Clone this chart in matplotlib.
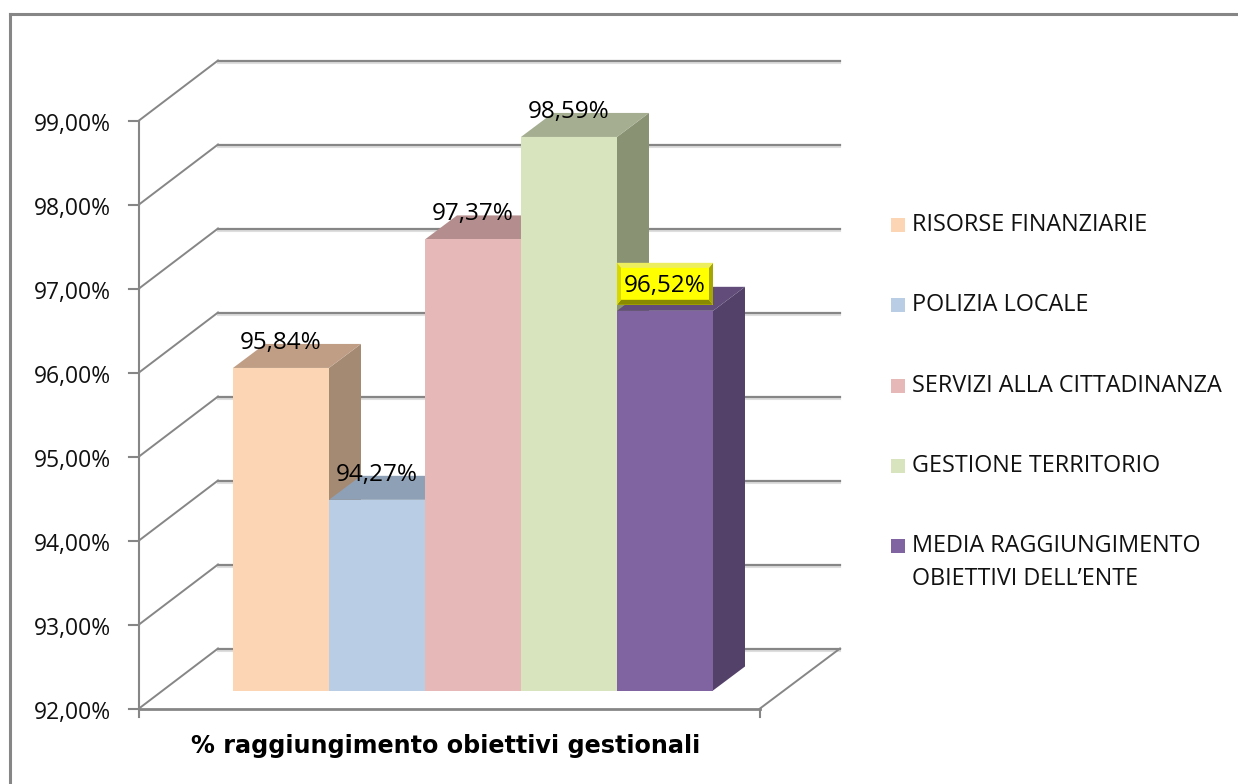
import matplotlib
matplotlib.use('Agg')
import matplotlib.pyplot as plt
from matplotlib.lines import Line2D
from matplotlib.patches import Polygon, Rectangle

# dati
categorie = ['RISORSE FINANZIARIE', 'POLIZIA LOCALE', 'SERVIZI ALLA CITTADINANZA',
             'GESTIONE TERRITORIO', 'MEDIA RAGGIUNGIMENTO\nOBIETTIVI DELL\u2019ENTE']
valori = [95.84, 94.27, 97.37, 98.59, 96.52]
etichette = ['95,84%', '94,27%', '97,37%', '98,59%', '96,52%']
tick_valori = [92, 93, 94, 95, 96, 97, 98, 99]
tick_etichette = ['92,00%', '93,00%', '94,00%', '95,00%', '96,00%', '97,00%', '98,00%', '99,00%']
titolo = '% raggiungimento obiettivi gestionali'

col_fronte = ['#FCD5B5', '#B9CDE5', '#E6B9B8', '#D7E4BD', '#8064A2']
col_sopra = ['#BF9E85', '#8EA0B5', '#B48E8E', '#A5AE90', '#614C7A']
col_lato = ['#A58A73', '#7E8EA1', '#A07E7E', '#8A9274', '#54416A']
grigio = '#868686'

W, H = 1238, 784
BAR_W = 96.0   # px per categoria
UNIT = 84.0    # px per punto percentuale
X0, Y0 = 233.0, 690.5  # angolo del primo bar, in pixel


def dx(p):
    return p / BAR_W


def dy(p):
    return p / UNIT


fig = plt.figure(figsize=(W / 100, H / 100), dpi=100)
ax = fig.add_axes([0, 0, 1, 1])
ax.set_xlim(-X0 / BAR_W, (W - X0) / BAR_W)
ax.set_ylim(92 - (H - Y0) / UNIT, 92 + Y0 / UNIT)
ax.axis('off')

# cornice del grafico
fig.add_artist(Line2D([10 / W, 10 / W], [0, 1 - 14 / H], color=grigio, lw=2.2))
fig.add_artist(Line2D([10 / W, 1], [1 - 14 / H, 1 - 14 / H], color=grigio, lw=2.2))

# piano frontale e piano di fondo
fx0, fx1 = dx(139 - X0), dx(760 - X0)
bx0, bx1 = dx(218 - X0), dx(840 - X0)
f_off, b_off = dy(-18), dy(42)

for v, lab in zip(tick_valori, tick_etichette):
    ax.plot([bx0, bx1], [v + b_off - dy(2)] * 2, color='#DEDEDE', lw=1.5, zorder=1)
    ax.plot([bx0, bx1], [v + b_off] * 2, color=grigio, lw=1.6, zorder=1.1)
    ax.plot([fx0, bx0], [v + f_off, v + b_off], color=grigio, lw=1.4, zorder=1.1)
    ax.plot([dx(129 - X0), fx0], [v + f_off] * 2, color=grigio, lw=1.5, zorder=1.1)
    ax.text(dx(111 - X0), v + f_off - dy(4), lab, ha='right', va='center',
            fontsize=16.5, family='Open Sans', color='#111111')

ax.plot([fx0, fx0], [tick_valori[0] + f_off - dy(8), tick_valori[-1] + f_off],
        color=grigio, lw=1.5, zorder=1.2)
ax.plot([fx0, fx1], [92 + f_off] * 2, color=grigio, lw=2, zorder=1.2)
ax.plot([fx1, fx1], [92 + f_off - dy(8), 92 + f_off], color=grigio, lw=1.5, zorder=1.2)
ax.plot([fx1, bx1], [92 + f_off, 92 + b_off], color=grigio, lw=1.4, zorder=1.2)

# barre pseudo 3D
prof_x, prof_y = dx(32), dy(24)
for i, v in enumerate(valori):
    z = 2 + i * 0.1
    ax.add_patch(Polygon([(i + 1, 92), (i + 1 + prof_x, 92 + prof_y),
                          (i + 1 + prof_x, v + prof_y), (i + 1, v)],
                         fc=col_lato[i], ec='none', zorder=z))
    ax.add_patch(Polygon([(i, v), (i + prof_x, v + prof_y),
                          (i + 1 + prof_x, v + prof_y), (i + 1, v)],
                         fc=col_sopra[i], ec='none', zorder=z))
    ax.bar(i + 0.5, v - 92, width=1, bottom=92, color=col_fronte[i], zorder=z + 0.01)

# riquadro giallo smussato sull'ultimo valore
bx, by = len(valori) - 1, valori[-1] + dy(6)
bw, bh = 1, dy(42)
sm_x, sm_y = dx(4), dy(5)
ax.add_patch(Rectangle((bx, by), bw, bh, fc='#FFFF00', ec='none', zorder=3))
ax.add_patch(Polygon([(bx, by), (bx + bw, by), (bx + bw - sm_x, by + sm_y), (bx + sm_x, by + sm_y)],
                     fc='#8A8A00', ec='none', zorder=3.1))
ax.add_patch(Polygon([(bx + bw, by), (bx + bw, by + bh), (bx + bw - sm_x, by + bh - sm_y),
                      (bx + bw - sm_x, by + sm_y)], fc='#A6A600', ec='none', zorder=3.1))
ax.add_patch(Polygon([(bx, by + bh), (bx + bw, by + bh), (bx + bw - sm_x, by + bh - sm_y),
                      (bx + sm_x, by + bh - sm_y)], fc='#EDED60', ec='none', zorder=3.1))
ax.add_patch(Polygon([(bx, by), (bx, by + bh), (bx + sm_x, by + bh - sm_y), (bx + sm_x, by + sm_y)],
                     fc='#D8D800', ec='none', zorder=3.1))

# etichette dei valori
for i, (v, lab) in enumerate(zip(valori, etichette)):
    ax.text(i + 0.5, v + dy(25), lab, ha='center', va='center', fontsize=17.5,
            family='Open Sans', color='black', zorder=4)

# titolo asse
ax.text(dx(446 - X0), 92 - dy(55), titolo, ha='center', va='center', fontsize=17.2,
        fontweight='bold', family='DejaVu Sans', color='black')

# legenda
leg_y = [225, 305, 386, 466, 546]
for py, nome, col in zip(leg_y, categorie, col_fronte):
    ax.add_patch(Rectangle((dx(891 - X0), 92 + dy(Y0 - py - 7)), dx(14), dy(14), fc=col, ec='none'))
    ax.text(dx(912 - X0), 92 + dy(Y0 - py + 12), nome, ha='left', va='top', fontsize=16.8,
            family='Open Sans', color='#111111', linespacing=1.52)

fig.savefig('out.png', dpi=100)
